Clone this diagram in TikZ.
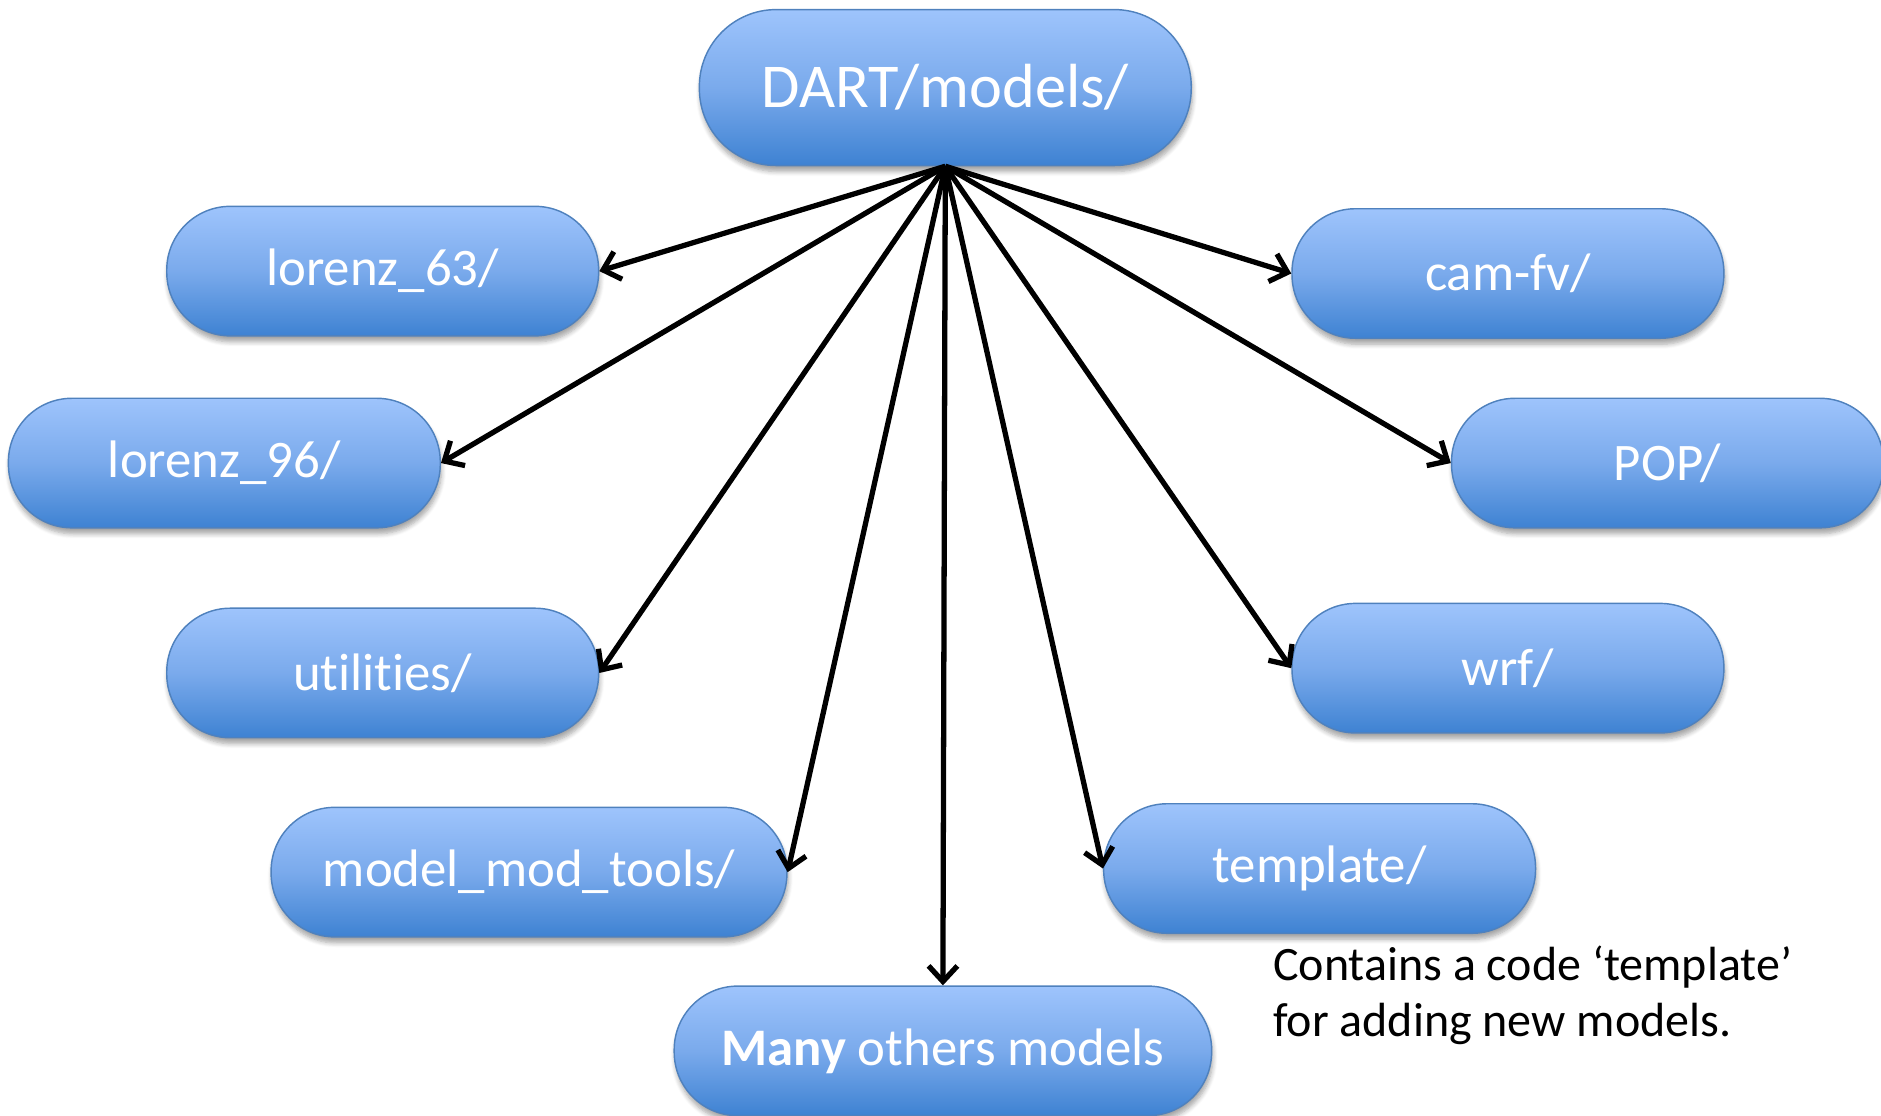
\documentclass[tikz,border=0pt]{standalone}
\usepackage{fontspec}
\setmainfont{Carlito}[Ligatures={CommonOff}]
\usetikzlibrary{arrows.meta,shadows.blur}
\definecolor{btop}{RGB}{158,196,252}
\definecolor{bmid}{RGB}{122,170,236}
\definecolor{bbot}{RGB}{62,130,210}
\definecolor{bedge}{RGB}{79,129,189}
\tikzset{
  pill/.style={draw=bedge, line width=0.6pt, rounded corners=26.5pt,
    top color=btop, bottom color=bbot, middle color=bmid,
    minimum width=180pt, minimum height=54pt, inner sep=0pt,
    text=white, font=\fontsize{22}{26}\selectfont,
    blur shadow={shadow xshift=0.5pt, shadow yshift=-2.5pt, shadow blur steps=6, shadow opacity=35}},
  bigpill/.style={pill, rounded corners=32pt, minimum width=205pt, minimum height=65pt,
    font=\fontsize{26}{30}\selectfont},
  arr/.style={draw=black, line width=2.2pt, -{Straight Barb[length=6.5pt,width=12pt,line width=2.2pt]}},
  note/.style={align=left, inner sep=0pt, text=black, font=\fontsize{20}{23.5}\selectfont}
}
\begin{document}
\begin{tikzpicture}[x=0.5pt,y=-0.5pt]
\useasboundingbox (0,0) rectangle (1568,930);
\node[bigpill] (top) at (788,73) {DART/models/};
\node[pill] (l63) at (319,226) {lorenz\_63/};
\node[pill] (l96) at (187,386) {lorenz\_96/};
\node[pill] (util) at (319,561) {ut\kern0pt ilit\kern0pt ies/};
\node[pill, minimum width=215pt] (mmt) at (441,727) {model\_mod\_tools/};
\node[pill, minimum width=224pt] (many) at (786,876) {\textbf{Many} others models};
\node[pill] (cam) at (1257,228) {cam-fv/};
\node[pill] (pop) at (1390,386) {POP/};
\node[pill] (wrf) at (1257,557) {wrf/};
\node[pill] (tmpl) at (1100,724) {template/};
\node[note, anchor=north west] (nt) at (1061,788) {Contains a code ‘template’\\for adding new models.};
\draw[arr] (top.south) -- (l63.east);
\draw[arr] (top.south) -- (l96.east);
\draw[arr] (top.south) -- (util.east);
\draw[arr] (top.south) -- (mmt.east);
\draw[arr] (top.south) -- (many.north);
\draw[arr] (top.south) -- (tmpl.west);
\draw[arr] (top.south) -- (wrf.west);
\draw[arr] (top.south) -- (pop.west);
\draw[arr] (top.south) -- (cam.west);
\end{tikzpicture}
\end{document}
